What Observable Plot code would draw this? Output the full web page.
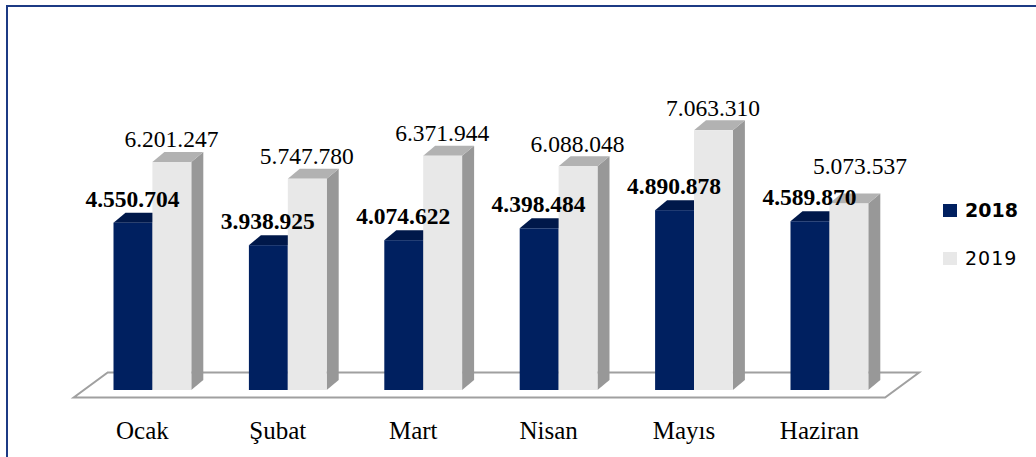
<!DOCTYPE html>
<html><head><meta charset="utf-8">
<script src="https://cdn.jsdelivr.net/npm/d3@7"></script>
<script src="https://cdn.jsdelivr.net/npm/@observablehq/plot@0.6"></script>
<style>
html,body{margin:0;padding:0;background:#fff;overflow:hidden;}
#wrap{position:relative;width:1036px;height:457px;overflow:hidden;background:#fff;}
#chart{position:absolute;left:0;top:0;}
#chart svg text{font-family:"Liberation Serif","Times New Roman",Times,serif !important;}
#frame{position:absolute;left:6px;top:5px;width:1100px;height:600px;border:2px solid #1c3a84;box-sizing:border-box;pointer-events:none;}
.lg{position:absolute;left:943px;height:24px;line-height:24px;display:flex;align-items:center;font-family:"DejaVu Sans",sans-serif;font-size:19px;color:#000;white-space:nowrap;}
.lg .sw{width:14px;height:13px;margin-right:8px;display:inline-block;}
</style>
</head><body>
<div id="wrap"><div id="chart"></div><div id="frame"></div></div>
<script>
const months = ["Ocak", "Şubat", "Mart", "Nisan", "Mayıs", "Haziran"];
const years = ["2018", "2019"];
const values2018 = [4550704, 3938925, 4074622, 4398484, 4890878, 4589870];
const values2019 = [6201247, 5747780, 6371944, 6088048, 7063310, 5073537];

const frontColors = ["#002060", "#e8e8e8"];
const topColors = ["#00184a", "#b2b2b2"];
const sideColors = ["#001440", "#989898"];

const rows2018 = months.map((m, i) => ({month: m, value: values2018[i]}));
const rows2019 = months.map((m, i) => ({month: m, value: values2019[i], prev: values2018[i]}));

const fmt = d3.formatLocale({decimal: ",", thousands: ".", grouping: [3], currency: ["", ""]}).format(",d");

const DX = 12, DY = -10;
const OUTER = 28.8, INNER = 67.7;
const SERIF = "Liberation Serif, Times New Roman, serif";
// a 2019 label too close in height to its 2018 neighbour is lifted clear of it
const crowded = d => d.value - d.prev < 1e6;

function faces(rows, insetLeft, insetRight, topFill, sideFill) {
  return (index, scales) => {
    const {x, y} = scales;
    const bw = x.bandwidth();
    const g = d3.create("svg:g");
    for (const r of rows) {
      const x0 = x(r.month) + insetLeft, x1 = x(r.month) + bw - insetRight;
      const yt = y(r.value), yb = y(0);
      g.append("path").attr("fill", sideFill)
        .attr("d", `M${x1},${yt}L${x1 + DX},${yt + DY}L${x1 + DX},${yb + DY}L${x1},${yb}Z`);
      g.append("path").attr("fill", topFill)
        .attr("d", `M${x0},${yt}L${x1},${yt}L${x1 + DX},${yt + DY}L${x0 + DX},${yt + DY}Z`);
    }
    return g.node();
  };
}

function floor(index, scales) {
  const {x, y} = scales;
  const [r0, r1] = x.range();
  const yf = y(0) + 7.5, yb = yf - 25, sh = 34;
  const x0 = r0 - 11, x1 = r1 - 12;
  return d3.create("svg:path")
    .attr("fill", "#fff").attr("stroke", "#a0a0a0").attr("stroke-width", 2)
    .attr("d", `M${x0},${yf}L${x1},${yf}L${x1 + sh},${yb}L${x0 + sh},${yb}Z`).node();
}

const chart = Plot.plot({
  width: 1036,
  height: 457,
  marginLeft: 84.7,
  marginRight: 138.9,
  marginTop: 0,
  marginBottom: 67,
  style: {background: "transparent", fontFamily: SERIF, overflow: "visible"},
  x: {domain: months, padding: 0, round: false, axis: null},
  y: {domain: [0, 10.607e6], axis: null},
  marks: [
    floor,
    faces(rows2018, OUTER, INNER, topColors[0], sideColors[0]),
    Plot.barY(rows2018, {x: "month", y: "value", fill: frontColors[0], insetLeft: OUTER, insetRight: INNER}),
    faces(rows2019, INNER, OUTER, topColors[1], sideColors[1]),
    Plot.barY(rows2019, {x: "month", y: "value", fill: frontColors[1], insetLeft: INNER, insetRight: OUTER}),
    Plot.text(rows2019, {filter: d => !crowded(d), x: "month", y: "value", text: d => fmt(d.value), dx: 18.5, dy: -15,
      lineAnchor: "bottom", fontSize: 23.5, fill: "#000"}),
    Plot.text(rows2019, {filter: crowded, x: "month", y: "value", text: d => fmt(d.value), dx: 30, dy: -30,
      lineAnchor: "bottom", fontSize: 23.5, fill: "#000"}),
    Plot.text(rows2018, {x: "month", y: "value", text: d => fmt(d.value), dx: -20.5, dy: -16.5, lineAnchor: "bottom",
      fontWeight: "bold", fontSize: 23.5, fill: "#000"}),
    Plot.text(months, {x: d => d, frameAnchor: "bottom", dy: 48.3, dx: -10.5, lineAnchor: "bottom",
      fontSize: 25, fill: "#000"})
  ]
});
document.getElementById("chart").appendChild(chart);

const wrap = document.getElementById("wrap");
const legendTops = [198.4, 246.4];
years.forEach((yr, i) => {
  const item = document.createElement("div");
  item.className = "lg";
  item.style.top = legendTops[i] + "px";
  item.style.fontWeight = i === 0 ? "bold" : "normal";
  if (i === 1) item.style.letterSpacing = "1px";
  const sw = document.createElement("span");
  sw.className = "sw";
  sw.style.background = frontColors[i];
  item.appendChild(sw);
  item.appendChild(document.createTextNode(yr));
  wrap.appendChild(item);
});
</script>
</body></html>
